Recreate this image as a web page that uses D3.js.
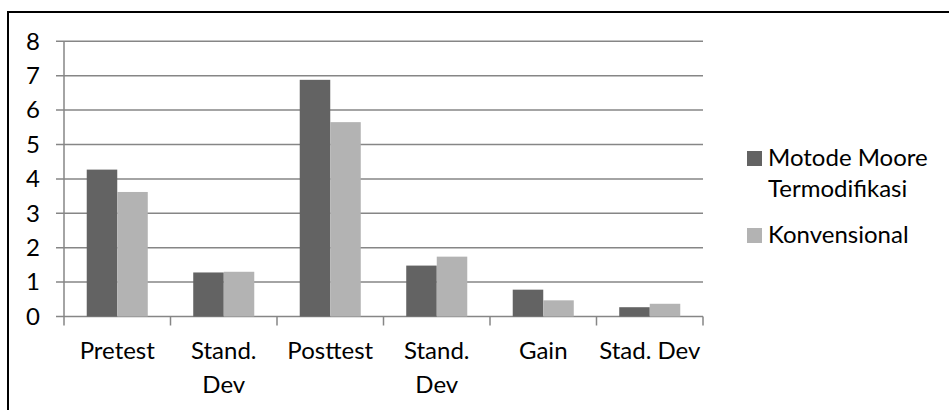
<!DOCTYPE html>
<html>
<head>
<meta charset="utf-8">
<script src="https://cdn.jsdelivr.net/npm/d3@7"></script>
<style>
  body { margin: 0; background: #fff; }
  svg { display: block; }
  text { font-family: Lato, "Open Sans", sans-serif; fill: #000; }
</style>
</head>
<body>
<div class="chart"></div>
<script>
// data
const categories = [["Pretest"], ["Stand.", "Dev"], ["Posttest"], ["Stand.", "Dev"], ["Gain"], ["Stad. Dev"]]
const seriesNames = [["Motode Moore", "Termodifikasi"], ["Konvensional"]]
const moore = [4.27, 1.28, 6.88, 1.48, 0.78, 0.27]
const konvensional = [3.62, 1.30, 5.65, 1.74, 0.47, 0.37]
const yTicks = [0, 1, 2, 3, 4, 5, 6, 7, 8]
const colors = ["#636363", "#b3b3b3"]

const svgWidth = 949, svgHeight = 410
const margin = { top: 41.3, left: 64, bottom: 93.5, right: 246 }
const w = svgWidth - margin.left - margin.right
const h = svgHeight - margin.top - margin.bottom

const svg = d3.select(".chart").append("svg")
    .attr("width", svgWidth)
    .attr("height", svgHeight)

// outer frame (top + left only visible)
svg.append("path")
    .attr("d", `M8,${svgHeight}V12H${svgWidth}`)
    .attr("fill", "none")
    .attr("stroke", "#000")
    .attr("stroke-width", 2)

const g = svg.append("g").attr("transform", `translate(${margin.left},${margin.top})`)

//SCALES
const idx = categories.map((d, i) => i)
const x0 = d3.scaleBand().domain(idx).range([0, w]).padding(0)
const x1 = d3.scaleBand().domain([0, 1]).range([0, x0.bandwidth()]).paddingInner(0).paddingOuter(0.745)
const y = d3.scaleLinear().domain([0, 8]).range([h, 0])

//GRIDLINES
g.append("g").selectAll("line")
    .data(yTicks)
    .join("line")
    .attr("x1", -8).attr("x2", w)
    .attr("y1", d => y(d)).attr("y2", d => y(d))
    .attr("stroke", "#868686")
    .attr("stroke-width", 1.5)

//Y AXIS LINE
g.append("line")
    .attr("x1", 0).attr("x2", 0)
    .attr("y1", 0).attr("y2", h)
    .attr("stroke", "#868686")
    .attr("stroke-width", 1.5)

//Y LABELS
g.append("g").selectAll("text")
    .data(yTicks)
    .join("text")
    .attr("x", -24)
    .attr("y", d => y(d))
    .attr("dy", "0.35em")
    .attr("text-anchor", "end")
    .style("font-size", "24px")
    .text(d => d)

//X AXIS TICKS
const xTicks = d3.range(categories.length + 1).map(i => i * x0.step())
g.append("g").selectAll("line")
    .data(xTicks)
    .join("line")
    .attr("x1", d => d).attr("x2", d => d)
    .attr("y1", h).attr("y2", h + 9)
    .attr("stroke", "#868686")
    .attr("stroke-width", 1.5)

//BARS
const rows = idx.map(i => [moore[i], konvensional[i]])
g.append("g").selectAll("g")
    .data(rows)
    .join("g")
    .attr("transform", (d, i) => `translate(${x0(i)},0)`)
    .selectAll("rect")
    .data(d => d.map((v, s) => ({ v, s })))
    .join("rect")
    .attr("x", d => x1(d.s))
    .attr("width", x1.bandwidth())
    .attr("y", d => y(d.v))
    .attr("height", d => h - y(d.v))
    .attr("fill", d => colors[d.s])

//X LABELS
const xl = g.append("g").selectAll("text")
    .data(categories)
    .join("text")
    .attr("text-anchor", "middle")
    .attr("transform", (d, i) => `translate(${x0(i) + x0.bandwidth() / 2},${h + 42})`)
    .style("font-size", "24px")
xl.selectAll("tspan")
    .data(d => d)
    .join("tspan")
    .attr("x", 0)
    .attr("y", (d, i) => i * 34)
    .text(d => d)

//LEGEND
const legend = svg.append("g").attr("transform", "translate(747,0)")
const legendY = [166, 243]
seriesNames.forEach((lines, s) => {
    legend.append("rect")
        .attr("x", 0).attr("y", legendY[s] - 15)
        .attr("width", 15).attr("height", 15)
        .attr("fill", colors[s])
    const t = legend.append("text")
        .attr("transform", `translate(21,${legendY[s]})`)
        .style("font-size", "24px")
    t.selectAll("tspan")
        .data(lines)
        .join("tspan")
        .attr("x", 0)
        .attr("y", (d, i) => i * 30.7)
        .text(d => d)
})
</script>
</body>
</html>
